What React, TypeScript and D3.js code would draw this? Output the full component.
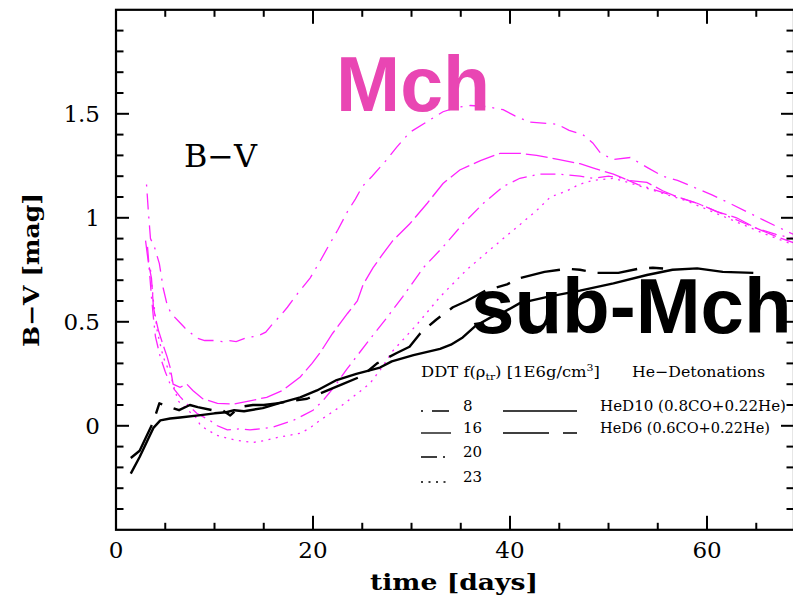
import React from 'react';
import * as d3 from 'd3';

// ---------- data ----------
const xMajorTicks = [0, 20, 40, 60];
const xTickLabels = ['0', '20', '40', '60'];
const xMinorTicks = [5, 10, 15, 25, 30, 35, 45, 50, 55, 65];
const yMajorTicks = [0, 0.5, 1, 1.5];
const yTickLabels = ['0', '0.5', '1', '1.5'];
const yMinorTicks = [-0.4, -0.3, -0.2, -0.1, 0.1, 0.2, 0.3, 0.4, 0.6, 0.7, 0.8, 0.9, 1.1, 1.2, 1.3, 1.4, 1.6, 1.7, 1.8, 1.9];

// DDT f(rho_tr) = 8 (dot-dash)
const ddt8: [number, number][] = [
  [3.1, 1.16], [3.3, 1.02], [3.5, 0.9], [3.9, 0.86], [4.4, 0.78], [4.8, 0.66], [5.2, 0.58], [5.6, 0.54],
  [6.4, 0.5], [7.0, 0.47], [7.5, 0.45], [8.3, 0.42], [9.0, 0.41], [10, 0.41], [10.8, 0.405], [11.5, 0.41],
  [12.2, 0.405], [13.3, 0.425], [14.3, 0.43], [15.2, 0.45], [15.9, 0.49], [16.7, 0.53], [17.4, 0.57],
  [18.5, 0.64], [19.7, 0.71], [20.7, 0.79], [21.7, 0.875], [22.5, 0.94], [23.5, 1.03], [24.3, 1.09],
  [25.0, 1.15], [26, 1.2], [27.5, 1.28], [28.5, 1.34], [29.8, 1.41], [31.5, 1.46], [33.2, 1.51],
  [34.5, 1.53], [36, 1.54], [37.5, 1.535], [39.3, 1.52], [40.5, 1.49], [42, 1.46], [44.8, 1.45],
  [46, 1.42], [47.4, 1.4], [48.4, 1.36], [49.2, 1.31], [50.5, 1.28], [52.2, 1.29], [54, 1.24],
  [55.5, 1.2], [57, 1.18], [59, 1.14], [60.5, 1.11], [62.3, 1.07], [64, 1.03], [65.7, 0.99], [67, 0.96], [68.8, 0.92],
];
// DDT 16 (long dash)
const ddt16: [number, number][] = [
  [3.0, 0.89], [3.3, 0.78], [3.6, 0.71], [3.8, 0.57], [4.0, 0.52], [4.3, 0.46], [4.7, 0.4], [5.2, 0.33],
  [5.5, 0.28], [5.8, 0.2], [6.5, 0.185], [7.2, 0.2], [7.8, 0.17], [8.8, 0.13], [10.3, 0.108], [12, 0.105],
  [13.6, 0.12], [15.3, 0.137], [16.9, 0.17], [18.7, 0.235], [19.9, 0.3], [20.7, 0.35], [22, 0.445],
  [23.5, 0.54], [24.5, 0.6], [25.1, 0.68], [26.1, 0.76], [27, 0.82], [28.1, 0.89], [29.8, 0.97],
  [31.6, 1.07], [33.2, 1.165], [34.9, 1.23], [37, 1.275], [39, 1.31], [41, 1.31], [42.7, 1.3],
  [45, 1.28], [47.1, 1.26], [48.4, 1.24], [50.5, 1.21], [52, 1.18], [53.9, 1.17], [55.5, 1.13],
  [57, 1.1], [59, 1.07], [61, 1.03], [63, 1.0], [65, 0.95], [67, 0.91], [68.8, 0.88],
];
// DDT 20 (dash-dot)
const ddt20: [number, number][] = [
  [3.2, 0.86], [3.4, 0.74], [3.6, 0.62], [3.8, 0.52], [4.0, 0.43], [4.5, 0.33], [5.0, 0.26], [5.5, 0.2],
  [6.5, 0.14], [7.3, 0.1], [8.2, 0.06], [9.5, 0.027], [10.3, 0.0], [11.3, -0.02], [12.5, -0.015],
  [13.6, -0.02], [15.9, -0.007], [18, 0.026], [19, 0.05], [20, 0.075], [21, 0.12], [22.2, 0.19],
  [23.4, 0.27], [25.5, 0.4], [27.5, 0.52], [29.1, 0.62], [31.2, 0.76], [33.2, 0.86], [35.2, 0.97],
  [37.3, 1.07], [39.3, 1.15], [41, 1.19], [43, 1.21], [45, 1.21], [47.1, 1.2], [48.4, 1.19], [50, 1.2],
  [51.5, 1.19], [53, 1.16], [55, 1.13], [57, 1.1], [59, 1.07], [61, 1.03], [63, 0.99], [65, 0.95],
  [67, 0.92], [68.8, 0.9],
];
// DDT 23 (dotted)
const ddt23: [number, number][] = [
  [3.5, 0.75], [3.8, 0.6], [4.2, 0.45], [4.8, 0.33], [5.5, 0.25], [6.3, 0.12], [7.2, 0.08], [8.1, 0.04],
  [8.6, 0.0], [9.3, -0.02], [10.2, -0.045], [11.3, -0.06], [12.3, -0.07], [13.9, -0.08], [15.2, -0.07],
  [16.5, -0.055], [18.7, -0.036], [19.7, -0.01], [20.7, 0.026], [22.7, 0.09], [24.5, 0.155],
  [25.8, 0.205], [27, 0.28], [28.1, 0.36], [30.6, 0.49], [32.9, 0.62], [35.6, 0.75], [38.3, 0.86],
  [40.7, 0.955], [42.7, 1.035], [44.1, 1.1], [45.8, 1.13], [47, 1.16], [48.4, 1.18], [50.5, 1.19],
  [52, 1.17], [54, 1.14], [56, 1.11], [58, 1.08], [60, 1.04], [62, 1.0], [64, 0.96], [66, 0.92], [68.8, 0.87],
];
// HeD10 (solid)
const hed10: [number, number][] = [
  [1.5, -0.23], [2.4, -0.15], [3.3, -0.06], [3.8, -0.01], [4.5, 0.026], [5.5, 0.035], [6.5, 0.04],
  [8.4, 0.05], [10, 0.06], [11.2, 0.065], [12, 0.075], [13, 0.07], [14.9, 0.085], [16.5, 0.108],
  [18.7, 0.137], [20.4, 0.17], [22.4, 0.22], [24.4, 0.25], [26.8, 0.28], [28, 0.31], [30.2, 0.34],
  [32.9, 0.37], [34, 0.39], [35.2, 0.425], [36.5, 0.48], [38, 0.52], [39.5, 0.55], [41, 0.59],
  [43.8, 0.62], [47.1, 0.65], [50.5, 0.685], [53.9, 0.725], [56.5, 0.75], [59, 0.757], [61.6, 0.74], [64.7, 0.735],
];
// HeD6 (long-short dash)
const hed6: [number, number][] = [
  [1.5, -0.155], [2.4, -0.12], [3.0, -0.06], [3.8, 0.02], [4.4, 0.108], [5.2, 0.095], [6.4, 0.075],
  [7.5, 0.1], [8.3, 0.09], [9.8, 0.075], [10.8, 0.075], [11.6, 0.05], [12.5, 0.09], [13.9, 0.1],
  [15, 0.1], [16.3, 0.108], [19.4, 0.13], [20.7, 0.155], [23, 0.2], [25, 0.24], [26.5, 0.3],
  [28.5, 0.35], [29.8, 0.38], [30.9, 0.445], [32.5, 0.51], [34.2, 0.57], [35.6, 0.6], [37.5, 0.65],
  [39.7, 0.68], [41, 0.71], [43.5, 0.74], [45.8, 0.755], [47.1, 0.75], [48.8, 0.735], [51, 0.735],
  [53, 0.755], [54.5, 0.76], [56, 0.755],
];

const ddtLabels = ['8', '16', '20', '23'];
const heLabels = ['HeD10 (0.8CO+0.22He)', 'HeD6 (0.6CO+0.22He)'];

// ---------- styles ----------
const PINK = '#ff22ff';
const ddtDash = ['2 7 16 7', '22 5', '15 6 2 6', '2 5.5'];
const legendDash = ['2 9 17 9', '', '16 6 2 6', '2 5.5'];
const heDash = ['', '40 12 14 12'];
const legendHeDash = ['', '46 14 14 14'];
const SERIF = '"DejaVu Serif", serif';
const SANS = '"Liberation Sans", Arial, sans-serif';

const W = 793;
const H = 601;

export default function App() {
  const x = d3.scaleLinear().domain([0, 68.83]).range([116, 794]);
  const y = d3.scaleLinear().domain([-0.5, 2.0]).range([529.8, 9.8]);
  const line = d3
    .line<[number, number]>()
    .x((d) => x(d[0]))
    .y((d) => y(d[1]));

  const x0 = x(0), x1 = x(68.83), yb = y(-0.5), yt = y(2.0);
  const ddtSeries = [ddt8, ddt16, ddt20, ddt23];
  const heSeries = [hed10, hed6];

  const legRowY = [411, 433, 457, 482];

  return (
    <svg width={W} height={H} style={{ position: 'absolute', left: 0, top: 0, background: '#fff' }}>
      <rect x={0} y={0} width={W} height={H} fill="#fff" />
      <defs>
        <clipPath id="plotclip">
          <rect x={x0} y={yt} width={x1 - x0} height={yb - yt} />
        </clipPath>
      </defs>

      {/* curves */}
      <g clipPath="url(#plotclip)" fill="none">
        {ddtSeries.map((s, i) => (
          <path key={'d' + i} d={line(s) || ''} stroke={PINK} strokeWidth={1.3} strokeDasharray={ddtDash[i]} />
        ))}
        {heSeries.map((s, i) => (
          <path key={'h' + i} d={line(s) || ''} stroke="#000" strokeWidth={2.4} strokeDasharray={heDash[i] || undefined} strokeLinejoin="round" />
        ))}
      </g>

      {/* frame */}
      <rect x={x0} y={yt} width={x1 - x0} height={yb - yt} fill="none" stroke="#000" strokeWidth={2.2} />

      {/* ticks */}
      <g stroke="#000" strokeWidth={2}>
        {xMajorTicks.map((t) => (
          <g key={'xm' + t}>
            <line x1={x(t)} x2={x(t)} y1={yb} y2={yb - 14} />
            <line x1={x(t)} x2={x(t)} y1={yt} y2={yt + 14} />
          </g>
        ))}
        {xMinorTicks.map((t) => (
          <g key={'xn' + t}>
            <line x1={x(t)} x2={x(t)} y1={yb} y2={yb - 7} />
            <line x1={x(t)} x2={x(t)} y1={yt} y2={yt + 7} />
          </g>
        ))}
        {yMajorTicks.map((t) => (
          <g key={'ym' + t}>
            <line x1={x0} x2={x0 + 13} y1={y(t)} y2={y(t)} />
            <line x1={x1} x2={x1 - 13} y1={y(t)} y2={y(t)} />
          </g>
        ))}
        {yMinorTicks.map((t) => (
          <g key={'yn' + t}>
            <line x1={x0} x2={x0 + 7.5} y1={y(t)} y2={y(t)} />
            <line x1={x1} x2={x1 - 7.5} y1={y(t)} y2={y(t)} />
          </g>
        ))}
      </g>

      {/* tick labels */}
      <g fontFamily={SERIF} fontSize={23} fill="#000">
        {xMajorTicks.map((t, i) => (
          <text key={'xl' + t} x={x(t)} y={558} textAnchor="middle">{xTickLabels[i]}</text>
        ))}
        {yMajorTicks.map((t, i) => (
          <text key={'yl' + t} x={100} y={y(t) + 8.5} textAnchor="end">{yTickLabels[i]}</text>
        ))}
      </g>

      {/* axis titles */}
      <text x={454} y={590} textAnchor="middle" fontFamily={SERIF} fontWeight="bold" fontSize={23} textLength={168} lengthAdjust="spacingAndGlyphs">time [days]</text>
      <text transform="translate(39,270) rotate(-90)" textAnchor="middle" fontFamily={SERIF} fontWeight="bold" fontSize={22} textLength={154} lengthAdjust="spacingAndGlyphs">B−V [mag]</text>

      {/* panel label */}
      <text x={184} y={167} fontFamily={SERIF} fontSize={31} textLength={73} lengthAdjust="spacingAndGlyphs">B−V</text>

      {/* big labels */}
      <text x={336} y={111} fontFamily={SANS} fontWeight="bold" fontSize={77} fill="#e946b3">Mch</text>
      <text x={471} y={333} fontFamily={SANS} fontWeight="bold" fontSize={78} fill="#000">sub-Mch</text>

      {/* legend */}
      <g fontFamily={SERIF} fontSize={15} fill="#000">
        <text x={421} y={377} textLength={179} lengthAdjust="spacingAndGlyphs">
          DDT f(ρ<tspan fontSize={10} dy={3}>tr</tspan><tspan dy={-3}>) [1E6g/cm</tspan><tspan fontSize={10} dy={-6}>3</tspan><tspan dy={6}>]</tspan>
        </text>
        <text x={632} y={377} textLength={133} lengthAdjust="spacingAndGlyphs">He−Detonations</text>
        {ddtLabels.map((lab, i) => (
          <g key={'lg' + i}>
            <line x1={421} x2={451} y1={legRowY[i]} y2={legRowY[i]} stroke="#000" strokeWidth={1.3} strokeDasharray={legendDash[i] || undefined} />
            <text x={463} y={legRowY[i]}>{lab}</text>
          </g>
        ))}
        {heLabels.map((lab, i) => (
          <g key={'lh' + i}>
            <line x1={503} x2={577} y1={legRowY[i]} y2={legRowY[i]} stroke="#000" strokeWidth={1.3} strokeDasharray={legendHeDash[i] || undefined} />
            <text x={600} y={legRowY[i]} textLength={i === 0 ? 186 : 170} lengthAdjust="spacingAndGlyphs">{lab}</text>
          </g>
        ))}
      </g>
    </svg>
  );
}
